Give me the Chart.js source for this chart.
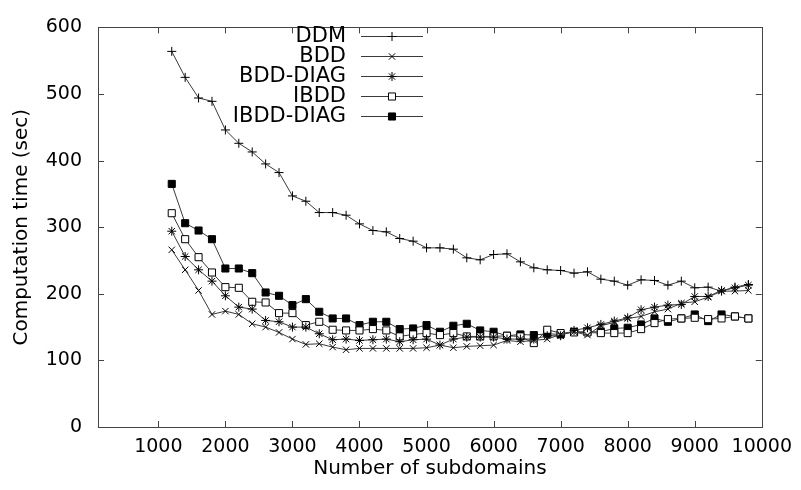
<!DOCTYPE html>
<html>
<head>
<meta charset="utf-8">
<script src="https://cdn.jsdelivr.net/npm/chart.js@4.4.0/dist/chart.umd.min.js"></script>
<style>
    html, body { margin: 0; padding: 0; background: #fff; }
    #wrap { width: 801px; height: 490px; }
</style>
</head>
<body>
<div id="wrap"><canvas id="timing-chart" width="801" height="490"></canvas></div>
<script>
var subdomains = [1200, 1400, 1600, 1800, 2000, 2200, 2400, 2600, 2800, 3000,
    3200, 3400, 3600, 3800, 4000, 4200, 4400, 4600, 4800, 5000,
    5200, 5400, 5600, 5800, 6000, 6200, 6400, 6600, 6800, 7000,
    7200, 7400, 7600, 7800, 8000, 8200, 8400, 8600, 8800, 9000,
    9200, 9400, 9600, 9800];

var ddmTime = [564, 525, 494, 489, 446, 426, 413, 395, 382, 347,
    339, 322, 322, 318, 305, 295, 293, 283, 279, 269,
    269, 267, 254, 251, 259, 260, 248, 239, 236, 235,
    231, 233, 222, 219, 213, 221, 220, 213, 219, 209,
    210, 204, 210, 214];
var bddTime = [266, 236, 205, 169, 174, 169, 155, 150, 142, 132,
    124, 125, 120, 116, 118, 118, 118, 118, 118, 119,
    123, 119, 121, 122, 123, 130, 128, 130, 132, 139,
    143, 138, 152, 157, 163, 166, 173, 177, 186, 188,
    195, 204, 204, 205];
var bddDiagTime = [294, 256, 236, 219, 197, 180, 177, 160, 158, 150,
    150, 140, 131, 132, 130, 131, 132, 128, 131, 132,
    123, 132, 135, 135, 135, 132, 132, 132, 137, 137,
    145, 149, 154, 159, 164, 176, 180, 183, 184, 196,
    196, 205, 209, 213];
var ibddTime = [321, 282, 255, 232, 210, 209, 188, 187, 171, 171,
    153, 158, 146, 145, 145, 147, 145, 136, 139, 141,
    138, 141, 136, 136, 136, 137, 136, 126, 146, 141,
    142, 142, 141, 141, 141, 147, 156, 162, 163, 164,
    162, 163, 166, 163];
var ibddDiagTime = [365, 306, 295, 282, 238, 238, 231, 202, 197, 183,
    192, 173, 163, 163, 153, 158, 158, 147, 148, 153,
    143, 152, 155, 145, 143, 137, 139, 138, 140, 139,
    143, 143, 143, 148, 149, 154, 163, 158, 163, 169,
    159, 169, 166, 163];

var xTicks = [1000, 2000, 3000, 4000, 5000, 6000, 7000, 8000, 9000, 10000];
var yTicks = [0, 100, 200, 300, 400, 500, 600];

var seriesNames = ['DDM', 'BDD', 'BDD-DIAG', 'IBDD', 'IBDD-DIAG'];
var seriesValues = [ddmTime, bddTime, bddDiagTime, ibddTime, ibddDiagTime];
var markerStyles = ['cross', 'crossRot', 'star', 'rect', 'rect'];
var markerFills = ['#000', '#000', '#000', '#fff', '#000'];
var markerSizes = [4.5, 4.5, 4.5, 5, 5];

function toPoints(values) {
    return subdomains.map(function (x, i) { return {x: x, y: values[i]}; });
}

Chart.defaults.font.family = "'DejaVu Sans', sans-serif";
Chart.defaults.color = '#000';

// gnuplot-like frame with inward ticks on all four sides
var frameTicks = {
    id: 'frameTicks',
    beforeDatasetsDraw: function (chart) {
        var ctx = chart.ctx, a = chart.chartArea;
        var xs = chart.scales.x, ys = chart.scales.y;
        ctx.save();
        ctx.strokeStyle = '#444';
        ctx.lineWidth = 1;
        ctx.strokeRect(Math.round(a.left) + 0.5, Math.round(a.top) + 0.5,
            Math.round(a.right - a.left), Math.round(a.bottom - a.top));
        ctx.beginPath();
        xs.ticks.forEach(function (t) {
            var px = Math.round(xs.getPixelForValue(t.value)) + 0.5;
            ctx.moveTo(px, a.bottom); ctx.lineTo(px, a.bottom - 6);
            ctx.moveTo(px, a.top); ctx.lineTo(px, a.top + 6);
        });
        ys.ticks.forEach(function (t) {
            var py = Math.round(ys.getPixelForValue(t.value)) + 0.5;
            ctx.moveTo(a.left, py); ctx.lineTo(a.left + 6, py);
            ctx.moveTo(a.right, py); ctx.lineTo(a.right - 6, py);
        });
        ctx.stroke();
        ctx.restore();
    }
};

// key in the upper middle: label right aligned, line sample with marker
var plotKey = {
    id: 'plotKey',
    afterDatasetsDraw: function (chart) {
        var ctx = chart.ctx;
        ctx.save();
        ctx.font = "21px 'DejaVu Sans', sans-serif";
        ctx.textAlign = 'right';
        ctx.textBaseline = 'middle';
        chart.data.datasets.forEach(function (ds, i) {
            var y = 36 + i * 19.9;
            ctx.fillStyle = '#000';
            ctx.fillText(ds.label, 346, y + 1);
            ctx.strokeStyle = ds.borderColor;
            ctx.lineWidth = 1;
            ctx.beginPath();
            ctx.moveTo(361, Math.round(y) + 0.5);
            ctx.lineTo(423, Math.round(y) + 0.5);
            ctx.stroke();
            ctx.fillStyle = ds.pointBackgroundColor;
            ctx.strokeStyle = ds.pointBorderColor;
            Chart.helpers.drawPoint(ctx, {
                pointStyle: ds.pointStyle, radius: ds.pointRadius,
                rotation: 0, borderWidth: 1
            }, 392, Math.round(y) + 0.5);
        });
        ctx.restore();
    }
};

var datasets = seriesNames.map(function (name, i) {
    return {
        label: name,
        data: toPoints(seriesValues[i]),
        borderColor: '#3a3a3a',
        borderWidth: 1,
        pointStyle: markerStyles[i],
        pointRadius: markerSizes[i],
        pointBorderWidth: 1,
        pointBorderColor: '#000',
        pointBackgroundColor: markerFills[i],
        tension: 0,
        fill: false
    };
});

var context = document.getElementById('timing-chart').getContext('2d');
var timingChart = new Chart(context, {
    type: 'line',
    data: {datasets: datasets},
    options: {
        responsive: false,
        animation: false,
        layout: {padding: {top: 16, right: 35, left: 0, bottom: 0}},
        plugins: {legend: {display: false}, tooltip: {enabled: false}},
        scales: {
            x: {
                type: 'linear',
                min: 100,
                max: 10000,
                afterBuildTicks: function (scale) {
                    scale.ticks = xTicks.map(function (v) { return {value: v}; });
                },
                afterFit: function (scale) { scale.height = 63; },
                grid: {display: false, drawTicks: false},
                border: {display: false},
                ticks: {
                    font: {size: 19}, padding: 9, maxRotation: 0, autoSkip: false,
                    callback: function (value) { return String(value); }
                },
                title: {display: true, text: 'Number of subdomains', font: {size: 20}, padding: {top: 0, bottom: 9}}
            },
            y: {
                type: 'linear',
                min: 0,
                max: 600,
                afterBuildTicks: function (scale) {
                    scale.ticks = yTicks.map(function (v) { return {value: v}; });
                },
                afterFit: function (scale) { scale.width = 98; },
                grid: {display: false, drawTicks: false},
                border: {display: false},
                ticks: {
                    font: {size: 19}, padding: 16,
                    callback: function (value) { return String(value); }
                },
                title: {display: true, text: 'Computation time (sec)', font: {size: 20}, padding: {top: 10, bottom: 0}}
            }
        }
    },
    plugins: [frameTicks, plotKey]
});
</script>
</body>
</html>
